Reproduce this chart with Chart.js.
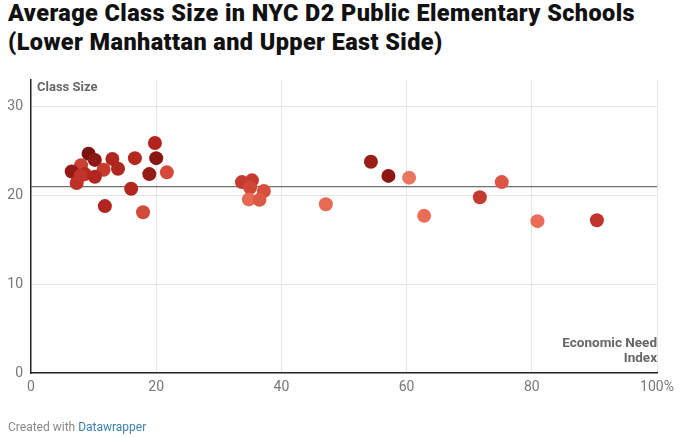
<!DOCTYPE html>
<html>
<head>
<meta charset="utf-8">
<script src="https://cdn.jsdelivr.net/npm/chart.js@4"></script>
<style>
  html, body { margin: 0; padding: 0; background: #fff; }
  body { width: 680px; height: 437px; position: relative; overflow: hidden; font-family: Roboto, "Noto Sans", sans-serif; }
  #title {
    position: absolute; left: 8px; top: -1px; margin: 0;
    font-family: Roboto, sans-serif; font-weight: 900; font-size: 23px; line-height: 29px;
    color: #111; letter-spacing: 0.4px; white-space: nowrap;
    transform: scaleX(1.02); transform-origin: left top;
  }
  #wrap { position: absolute; left: 0; top: 0; width: 680px; height: 437px; }
  #footer { position: absolute; left: 8px; top: 420px; font-size: 12px; color: #888; }
  #footer span { color: #3a7fb5; }
</style>
</head>
<body>
<h1 id="title">Average Class Size in NYC D2 Public Elementary Schools<br>(Lower Manhattan and Upper East Side)</h1>
<div id="wrap"><canvas id="scatterChart"></canvas></div>
<div id="footer">Created with <span>Datawrapper</span></div>
<script>
// Economic Need Index (%) and average class size per school
const economicNeed = [
  19.8, 9.2, 10.2, 8.0, 13.0, 16.6, 20.0, 6.5, 11.6, 13.9,
  8.6, 10.2, 7.3, 7.9, 18.9, 21.7, 16.0, 11.8, 17.9,
  33.7, 35.3, 35.0, 37.2, 34.8, 36.5, 47.1, 54.3, 57.1,
  60.4, 62.8, 71.7, 75.2, 80.9, 90.4,
];
const classSize = [
  25.9, 24.7, 24.0, 23.4, 24.1, 24.2, 24.2, 22.7, 22.9, 23.0,
  22.4, 22.1, 21.4, 22.2, 22.4, 22.6, 20.75, 18.8, 18.1,
  21.5, 21.7, 20.9, 20.5, 19.55, 19.5, 19.0, 23.8, 22.2,
  22.0, 17.7, 19.8, 21.5, 17.1, 17.2,
];
const pointColors = [
  "#b5231f", "#7a1210", "#8e1813", "#cc4033", "#b1261f", "#b5281f", "#8a1612", "#951a15", "#c53a2d", "#b02620",
  "#b72a22", "#b3261f", "#bf3027", "#c0342a", "#961b15", "#d4493a", "#b22720", "#b2241f", "#d24a3a",
  "#c33a2e", "#c63a2f", "#d04636", "#d84f3f", "#e66852", "#dc5a45", "#e86a55", "#9a1d16", "#8e1913",
  "#e87560", "#e86e58", "#c43a2e", "#dc5444", "#ea6c58", "#c1362c",
];
const averageClassSize = 21;
const xTicks = [0, 20, 40, 60, 80, 100];
const yTicks = [0, 10, 20, 30];

const points = economicNeed.map((x, i) => ({ x: x, y: classSize[i] }));

const axisLabels = {
  id: "axisLabels",
  afterDraw(chart) {
    const { ctx, chartArea } = chart;
    ctx.save();
    ctx.fillStyle = "#666";
    ctx.font = "bold 13px Roboto, sans-serif";
    ctx.textBaseline = "middle";
    ctx.textAlign = "left";
    ctx.fillText("Class Size", chartArea.left + 6, chartArea.top + 8);
    ctx.font = "bold 13.5px Roboto, sans-serif";
    ctx.textAlign = "right";
    ctx.fillText("Economic Need", chartArea.right, chartArea.bottom - 29);
    ctx.fillText("Index", chartArea.right, chartArea.bottom - 14);
    ctx.restore();
  },
};

const ctx = document.getElementById("scatterChart").getContext("2d");
new Chart(ctx, {
  type: "scatter",
  data: {
    datasets: [
      {
        label: "Schools",
        data: points,
        backgroundColor: pointColors,
        borderWidth: 0,
        pointRadius: 7,
        pointHoverRadius: 7,
        order: 1,
      },
      {
        type: "line",
        label: "Average",
        data: [
          { x: xTicks[0], y: averageClassSize },
          { x: xTicks[xTicks.length - 1], y: averageClassSize },
        ],
        borderColor: "#707070",
        borderWidth: 1.2,
        pointRadius: 0,
        fill: false,
        order: 2,
      },
    ],
  },
  options: {
    responsive: true,
    maintainAspectRatio: false,
    animation: false,
    layout: { padding: { top: 80, right: 23, bottom: 0, left: 0 } },
    plugins: {
      legend: { display: false },
      tooltip: { enabled: false },
    },
    scales: {
      x: {
        type: "linear",
        min: 0,
        max: 100,
        afterFit: (s) => { s.height = 64; },
        afterBuildTicks: (s) => { s.ticks = xTicks.map((v) => ({ value: v })); },
        ticks: {
          padding: 6,
          color: "#777",
          font: { family: "Roboto", size: 14 },
          callback: (v) => (v === 100 ? "100%" : v),
        },
        grid: {
          drawTicks: false,
          color: (c) => (c.tick && c.tick.value === 0 ? "transparent" : "#e6e6e6"),
          lineWidth: 1,
        },
        border: { display: true, color: "#222", width: 1.5 },
      },
      y: {
        type: "linear",
        min: 0,
        max: 33,
        afterFit: (s) => { s.width = 31; },
        afterBuildTicks: (s) => { s.ticks = yTicks.map((v) => ({ value: v })); },
        ticks: {
          padding: 8,
          color: "#777",
          font: { family: "Roboto", size: 14 },
        },
        grid: {
          drawTicks: false,
          color: (c) => (c.tick && c.tick.value === 0 ? "transparent" : "#e6e6e6"),
          lineWidth: 1,
        },
        border: { display: true, color: "#222", width: 1.5 },
      },
    },
  },
  plugins: [axisLabels],
});
</script>
</body>
</html>
